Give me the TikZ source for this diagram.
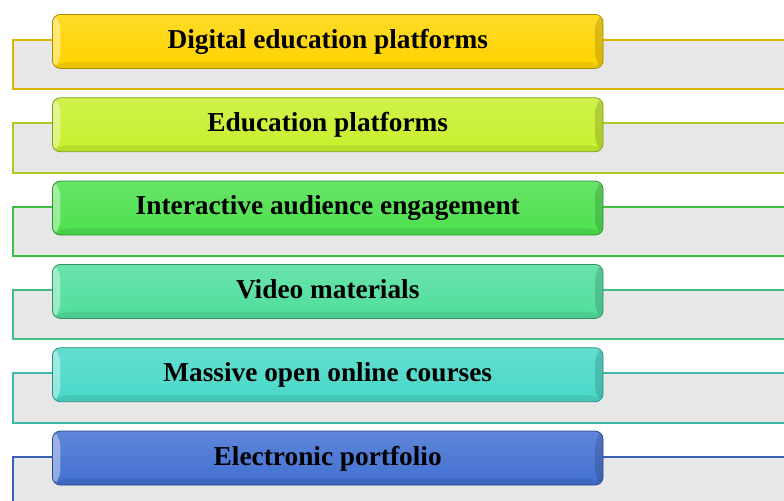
\documentclass[tikz,border=0pt]{standalone}
\usepackage{fontspec}
\setmainfont{Liberation Serif}
\usepackage{tikz}
\usetikzlibrary{positioning}
\definecolor{cgold}{HTML}{FFD400}
\definecolor{clime}{HTML}{C8F02C}
\definecolor{cgreen}{HTML}{4DE04D}
\definecolor{cmint}{HTML}{50DE9C}
\definecolor{cteal}{HTML}{48D8C8}
\definecolor{cblue}{HTML}{4270D2}
\definecolor{barfill}{HTML}{E7E7E7}
\tikzset{
  bar/.style={rectangle, draw=#1!85!black, line width=1.4pt, fill=barfill,
    anchor=north west, inner sep=0pt, minimum width=600pt, minimum height=37pt},
  tile/.style={rectangle, rounded corners=6pt, draw=#1!65!black, line width=0.6pt,
    top color=#1!85!white, bottom color=#1, anchor=north west, inner sep=0pt,
    minimum width=413pt, minimum height=40.5pt, text depth=4pt,
    font=\fontsize{20.5}{23}\selectfont\bfseries,
    path picture={
      \fill[white,opacity=.4] (path picture bounding box.north west)
        -- ([shift={(6pt,-5pt)}]path picture bounding box.north west)
        -- ([shift={(6pt,5pt)}]path picture bounding box.south west)
        -- (path picture bounding box.south west) -- cycle;
      \fill[black,opacity=.14] (path picture bounding box.north east)
        -- ([shift={(-6pt,-5pt)}]path picture bounding box.north east)
        -- ([shift={(-6pt,5pt)}]path picture bounding box.south east)
        -- (path picture bounding box.south east) -- cycle;
      \fill[black,opacity=.08] (path picture bounding box.south west)
        -- ([shift={(6pt,5pt)}]path picture bounding box.south west)
        -- ([shift={(-6pt,5pt)}]path picture bounding box.south east)
        -- (path picture bounding box.south east) -- cycle;
    }},
}
\begin{document}
\begin{tikzpicture}[x=0.75pt,y=-0.75pt]
    \useasboundingbox (0,0) rectangle (784,500);
    \clip (0,0) rectangle (784,500);

    % grey bars behind
    \node[bar=cgold] (bar1) at (12,39) {};
    \node[bar=clime] (bar2) at ([yshift=-62.5pt]bar1.north west) {};
    \node[bar=cgreen] (bar3) at ([yshift=-62.5pt]bar2.north west) {};
    \node[bar=cmint] (bar4) at ([yshift=-62.5pt]bar3.north west) {};
    \node[bar=cteal] (bar5) at ([yshift=-62.5pt]bar4.north west) {};
    \node[bar=cblue] (bar6) at ([yshift=-62.5pt]bar5.north west) {};

    % labels
    \node[tile=cgold] (lbl1) at ([xshift=30pt,yshift=18.75pt]bar1.north west) {Digital education platforms};
    \node[tile=clime] (lbl2) at ([xshift=30pt,yshift=18.75pt]bar2.north west) {Education platforms};
    \node[tile=cgreen] (lbl3) at ([xshift=30pt,yshift=18.75pt]bar3.north west) {Interactive audience engagement};
    \node[tile=cmint] (lbl4) at ([xshift=30pt,yshift=18.75pt]bar4.north west) {Video materials};
    \node[tile=cteal] (lbl5) at ([xshift=30pt,yshift=18.75pt]bar5.north west) {Massive open online courses};
    \node[tile=cblue] (lbl6) at ([xshift=30pt,yshift=18.75pt]bar6.north west) {Electronic portfolio};
\end{tikzpicture}
\end{document}
